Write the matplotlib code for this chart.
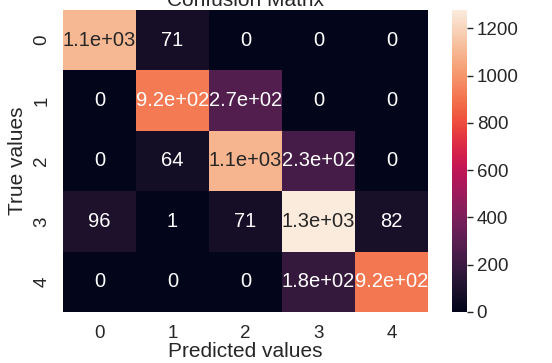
import numpy as np
import matplotlib
matplotlib.use('Agg')
import matplotlib.pyplot as plt
import seaborn as sns

# Confusion matrix counts (rows = true class, columns = predicted class)
class_labels = ['0', '1', '2', '3', '4']
row_0 = [1105, 71, 0, 0, 0]
row_1 = [0, 921, 270, 0, 0]
row_2 = [0, 64, 1097, 231, 0]
row_3 = [96, 1, 71, 1278, 82]
row_4 = [0, 0, 0, 178, 918]

cm = np.array([row_0, row_1, row_2, row_3, row_4])

plt.rcParams['font.family'] = ['Liberation Sans', 'DejaVu Sans']
plt.rcParams['text.color'] = '0.15'
plt.rcParams['axes.labelcolor'] = '0.15'
plt.rcParams['xtick.color'] = '0.15'
plt.rcParams['ytick.color'] = '0.15'

fig = plt.figure(figsize=(5.52, 3.63), dpi=100)
W, H = 552, 363
ax = fig.add_axes([63 / W, 1 - 312 / H, (428 - 63) / W, (312 - 10) / H])
cax = fig.add_axes([452 / W, 1 - 312 / H, (467 - 452) / W, (312 - 10) / H])

sns.heatmap(cm, annot=True, ax=ax, cbar_ax=cax,
            xticklabels=class_labels, yticklabels=class_labels,
            annot_kws={'size': 14.5})

ax.set_title('Confusion Matrix', fontsize=15, pad=2.5)
ax.set_xlabel('Predicted values', fontsize=15, labelpad=0.5)
ax.set_ylabel('True values', fontsize=15, labelpad=5)
ax.tick_params(axis='both', length=0, labelsize=13.5, pad=9)
plt.setp(ax.get_yticklabels(), rotation=90, va='center')

cax.tick_params(length=4, width=1, labelsize=13.5, pad=3, color='0.15')

fig.savefig('out.png', dpi=100)
